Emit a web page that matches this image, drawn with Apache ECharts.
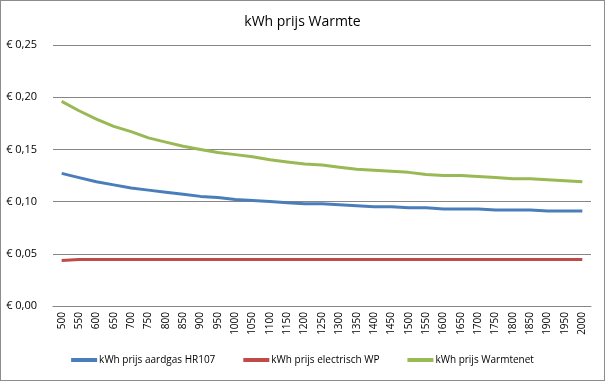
<!DOCTYPE html>
<html>
<head>
<meta charset="utf-8">
<script src="https://cdn.jsdelivr.net/npm/echarts@6/dist/echarts.min.js"></script>
<style>
html,body{margin:0;padding:0;background:#fff;}
#c{position:absolute;left:0;top:0;width:603px;height:379px;border:1px solid #8c8c8c;}
</style>
</head>
<body>
<div id="c"></div>
<script>
const categories = ['500','550','600','650','700','750','800','850','900','950','1000','1050','1100','1150','1200','1250','1300','1350','1400','1450','1500','1550','1600','1650','1700','1750','1800','1850','1900','1950','2000'];
const aardgas = [0.127,0.123,0.119,0.116,0.113,0.111,0.109,0.107,0.105,0.104,0.102,0.101,0.100,0.099,0.098,0.098,0.097,0.096,0.095,0.095,0.094,0.094,0.093,0.093,0.093,0.092,0.092,0.092,0.091,0.091,0.091];
const electrisch = [0.0435,0.0445,0.0445,0.0445,0.0445,0.0445,0.0445,0.0445,0.0445,0.0445,0.0445,0.0445,0.0445,0.0445,0.0445,0.0445,0.0445,0.0445,0.0445,0.0445,0.0445,0.0445,0.0445,0.0445,0.0445,0.0445,0.0445,0.0445,0.0445,0.0445,0.0445];
const warmtenet = [0.196,0.187,0.179,0.172,0.167,0.161,0.157,0.153,0.150,0.147,0.145,0.143,0.140,0.138,0.136,0.135,0.133,0.131,0.130,0.129,0.128,0.126,0.125,0.125,0.124,0.123,0.122,0.122,0.121,0.120,0.119];
const seriesNames = ['kWh prijs aardgas HR107','kWh prijs electrisch WP','kWh prijs Warmtenet'];
const colors = ['#4A7EBB','#BE4B48','#98B954'];
const title = 'kWh prijs Warmte';

const chart = echarts.init(document.getElementById('c'));
const font = '"Open Sans", "Noto Sans", sans-serif';
function mk(name, data, color){
  return {name, type:'line', data, symbol:'none', smooth:false,
    lineStyle:{color, width:3}, itemStyle:{color}};
}
chart.setOption({
  animation:false,
  title:{text:title, left:'center', top:9, textStyle:{fontFamily:font, fontSize:14, fontWeight:'normal', color:'#000'}},
  grid:{left:52, right:13, top:44, bottom:74, containLabel:false},
  xAxis:{type:'category', data:categories, boundaryGap:true,
    axisLine:{lineStyle:{color:'#868686', width:1}},
    axisTick:{show:false},
    axisLabel:{rotate:90, fontFamily:font, fontSize:10, color:'#000', margin:6, interval:0}},
  yAxis:{type:'value', min:0, max:0.25, interval:0.05,
    axisLine:{show:false}, axisTick:{show:false},
    splitLine:{lineStyle:{color:'#868686', width:1}},
    axisLabel:{fontFamily:font, fontSize:11, color:'#000', margin:16,
      formatter:v=>'€ '+v.toFixed(2).replace('.',',')}},
  legend:{bottom:10, left:'center', itemGap:28, itemWidth:26, itemHeight:4, icon:'rect',
    textStyle:{fontFamily:font, fontSize:10, color:'#000', padding:[0,0,0,-3]},
    data:seriesNames},
  series:[mk(seriesNames[0], aardgas, colors[0]), mk(seriesNames[1], electrisch, colors[1]), mk(seriesNames[2], warmtenet, colors[2])]
});
</script>
</body>
</html>
